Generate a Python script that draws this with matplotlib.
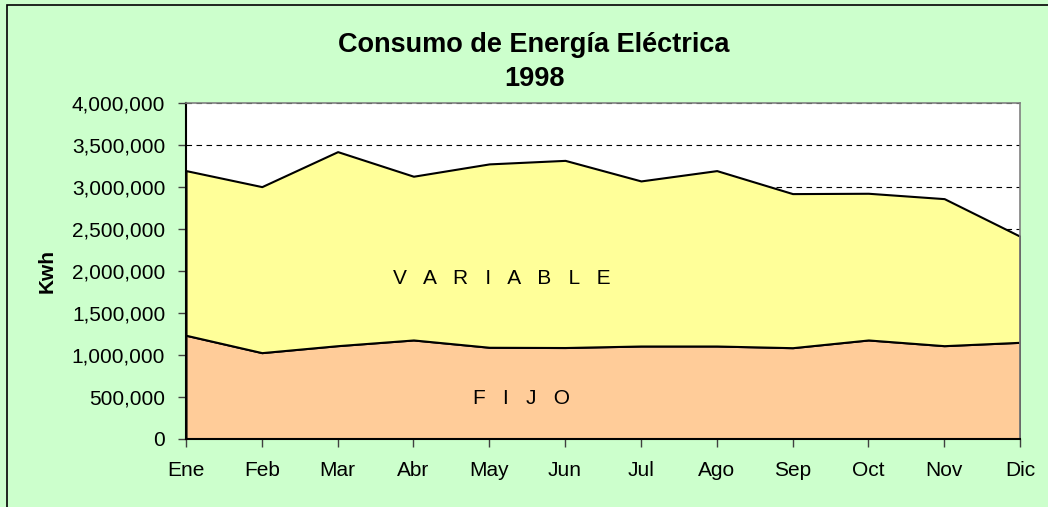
import matplotlib
matplotlib.use("Agg")
import matplotlib.pyplot as plt
import numpy as np
from matplotlib.ticker import FuncFormatter, MultipleLocator
from matplotlib.patches import Rectangle

plt.rcParams["font.family"] = ["Liberation Sans", "DejaVu Sans"]

meses = ["Ene", "Feb", "Mar", "Abr", "May", "Jun",
         "Jul", "Ago", "Sep", "Oct", "Nov", "Dic"]
fijo = [1236000, 1029000, 1112000, 1180000, 1093000, 1090000,
        1108000, 1108000, 1088000, 1180000, 1112000, 1152000]
variable = [1962000, 1978000, 2312000, 1951000, 2185000, 2230000,
            1967000, 2090000, 1836000, 1748000, 1752000, 1264000]

W, H = 1048, 507
fig = plt.figure(figsize=(W / 100, H / 100), dpi=100)
fig.patch.set_facecolor("#CCFFCC")

# marco exterior (solo se ven los bordes superior e izquierdo)
fig.patches.append(Rectangle((7 / W, -0.05), 1.2, 1 - 5 / H + 0.05,
                             transform=fig.transFigure, fill=False,
                             edgecolor="black", linewidth=1.2))

ax = fig.add_axes([186 / W, (H - 439) / H, (1020 - 186) / W, (439 - 103.3) / H])
ax.set_facecolor("white")

x = np.arange(len(meses))
fijo = np.array(fijo)
total = fijo + np.array(variable)

ax.fill_between(x, 0, fijo, facecolor="#FFCC99", edgecolor="black",
                linewidth=1.5, zorder=2)
ax.fill_between(x, fijo, total, facecolor="#FFFF99", edgecolor="black",
                linewidth=1.5, zorder=2)

ax.set_xlim(0, len(meses) - 1)
ax.set_ylim(0, 4000000)
ax.yaxis.set_major_locator(MultipleLocator(500000))
ax.yaxis.set_major_formatter(FuncFormatter(lambda v, p: f"{int(v):,}"))
ax.set_xticks(x)
ax.set_xticklabels(meses)

ax.grid(axis="y", color="black", linestyle=(0, (5, 4)), linewidth=0.8, zorder=1)
ax.set_axisbelow(True)

ax.tick_params(axis="y", direction="out", length=6, width=1, color="#404040",
               labelsize=15, pad=9)
ax.tick_params(axis="x", direction="out", length=6, width=1, color="#404040",
               labelsize=15, pad=10)

for s in ["top", "right"]:
    ax.spines[s].set_color("#808080")
    ax.spines[s].set_linewidth(1.2)
for s in ["left", "bottom"]:
    ax.spines[s].set_color("black")
    ax.spines[s].set_linewidth(1.5)

ax.set_ylabel("Kwh", fontsize=15, fontweight="bold", labelpad=11)

ax.text(4.17, 1907000, "V   A   R   I   A   B   L   E", fontsize=15,
        ha="center", va="center", zorder=3)
ax.text(4.42, 480000, "F   I   J   O", fontsize=15, ha="center", va="center",
        zorder=3)

fig.text(534 / W, 1 - 45 / H, "Consumo de Energía Eléctrica", fontsize=19.5,
         fontweight="bold", ha="center", va="center")
fig.text(534 / W, 1 - 79 / H, "1998", fontsize=19.5, fontweight="bold",
         ha="center", va="center")

fig.savefig("out.png", dpi=100, facecolor=fig.get_facecolor())
